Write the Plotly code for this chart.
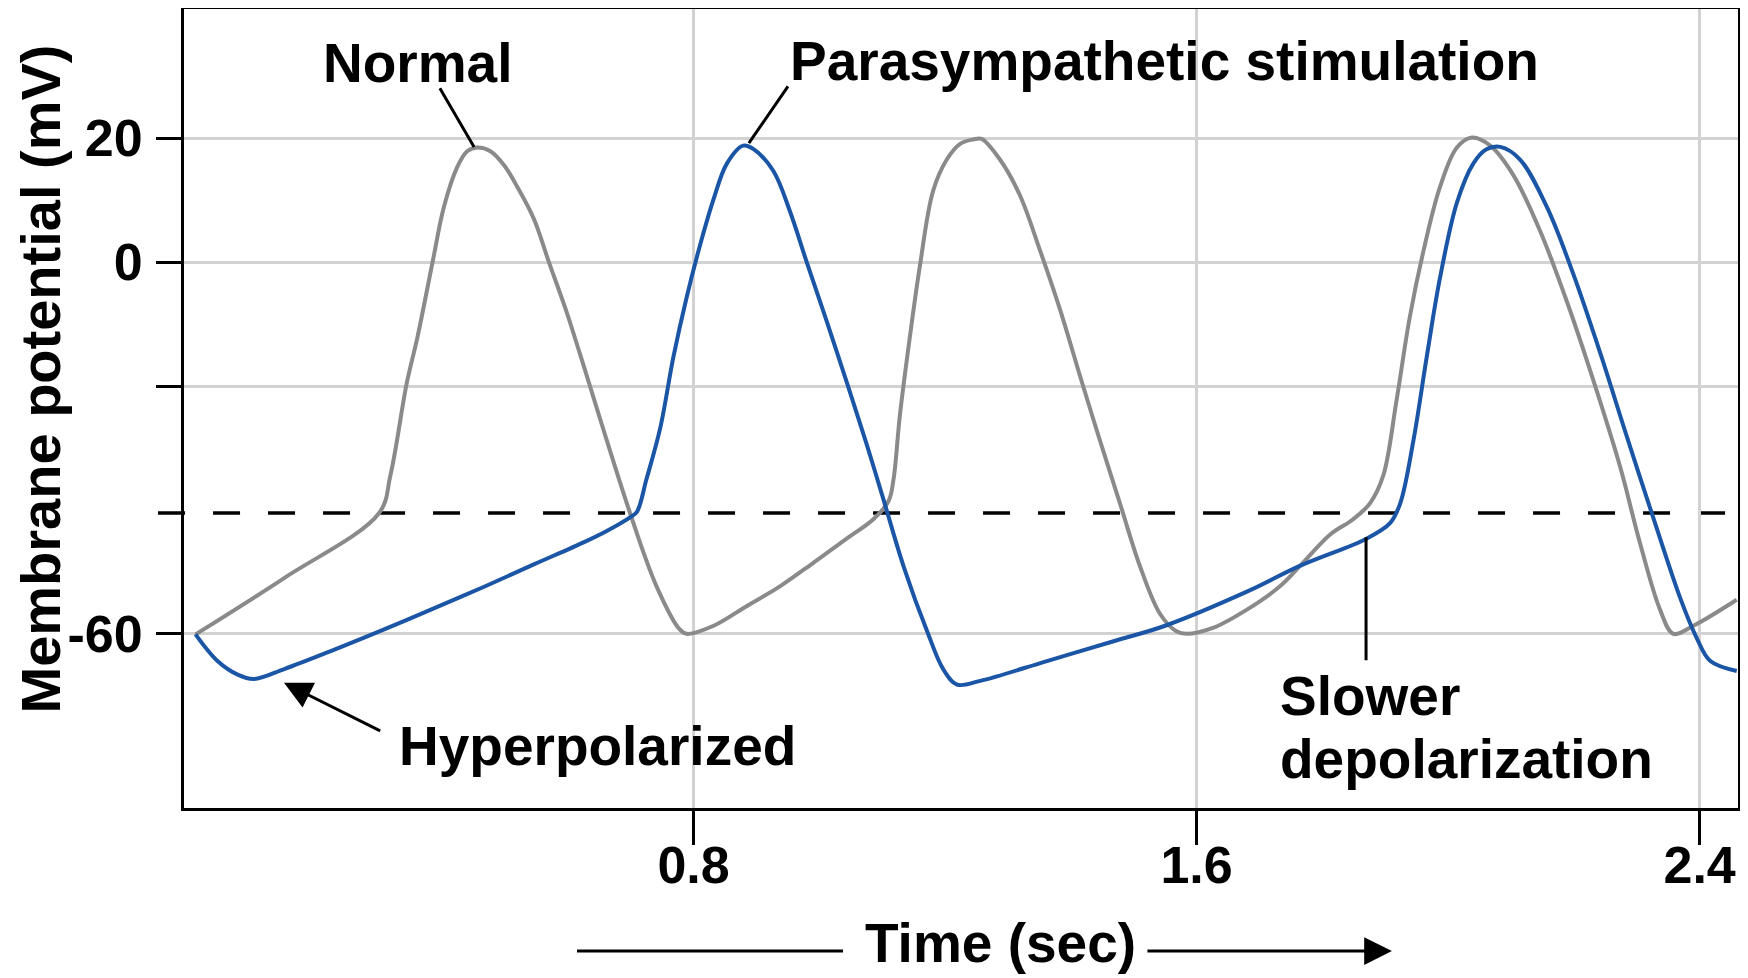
import plotly.graph_objects as go

# pacemaker potentials: time (s) and membrane potential (mV)
normal_t = [0.008, 0.149, 0.300, 0.318, 0.344, 0.361, 0.385, 0.403, 0.424, 0.440,
            0.456, 0.477, 0.499, 0.520, 0.546, 0.570, 0.599, 0.619, 0.699, 0.741,
            0.778, 0.789, 0.832, 0.885, 0.938, 0.991, 1.044, 1.086, 1.110, 1.118,
            1.128, 1.144, 1.160, 1.181, 1.203, 1.224, 1.245, 1.258, 1.287, 1.319,
            1.351, 1.383, 1.415, 1.446, 1.478, 1.510, 1.542, 1.568, 1.584, 1.627,
            1.680, 1.733, 1.765, 1.812, 1.849, 1.876, 1.897, 1.918, 1.939, 1.961,
            1.987, 2.014, 2.038, 2.067, 2.104, 2.146, 2.189, 2.231, 2.274, 2.305,
            2.337, 2.358, 2.390, 2.459]
normal_mv = [-60.1, -51.0, -40.5, -34.4, -19.5, -12.1, 0.0, 8.9, 15.3, 17.9,
             18.5, 17.9, 15.6, 12.1, 7.0, 0.0, -8.3, -14.7, -40.5, -52.3,
             -59.3, -60.0, -58.7, -55.5, -52.3, -48.5, -44.6, -41.5, -38.6, -35.1,
             -24.9, -12.1, -0.6, 11.5, 16.6, 19.1, 19.8, 19.9, 16.6, 10.8,
             1.9, -7.7, -18.5, -28.7, -38.9, -49.1, -56.8, -59.6, -60.0, -59.0,
             -56.1, -52.3, -49.0, -44.0, -41.5, -38.9, -34.4, -22.3, -8.9, 1.9,
             12.1, 18.5, 20.1, 18.8, 14.0, 5.1, -6.4, -19.1, -33.2, -45.3,
             -56.1, -60.0, -58.7, -54.5]

para_t = [0.008, 0.043, 0.075, 0.101, 0.149, 0.228, 0.308, 0.387, 0.467, 0.546,
          0.626, 0.662, 0.699, 0.710, 0.725, 0.747, 0.768, 0.789, 0.810, 0.832,
          0.853, 0.879, 0.896, 0.927, 0.953, 0.980, 1.012, 1.044, 1.075, 1.102,
          1.134, 1.173, 1.197, 1.219, 1.256, 1.362, 1.468, 1.550, 1.680, 1.765,
          1.871, 1.908, 1.924, 1.945, 1.966, 1.987, 2.014, 2.040, 2.061, 2.083,
          2.114, 2.157, 2.199, 2.242, 2.284, 2.327, 2.369, 2.395, 2.417, 2.459]
para_mv = [-60.1, -64.4, -66.6, -67.3, -65.7, -62.6, -59.3, -55.9, -52.4, -48.8,
           -45.2, -43.4, -41.2, -40.3, -35.1, -26.8, -15.3, -5.7, 2.6, 10.2,
           15.9, 18.8, 18.2, 14.7, 8.3, 0.0, -9.6, -19.5, -29.3, -38.3,
           -49.1, -60.0, -65.7, -68.2, -67.6, -64.4, -61.2, -58.7, -53.2, -49.0,
           -44.6, -42.1, -38.9, -28.7, -15.3, -2.6, 9.6, 15.9, 18.2, 18.6,
           16.6, 8.9, -1.9, -14.7, -28.1, -41.5, -54.2, -60.6, -64.4, -66.0]

threshold_mv = -40.5

x_ticks = [0.8, 1.6, 2.4]
x_ticktext = ['0.8', '1.6', '2.4']
y_ticks = [-60, -20, 0, 20]
y_ticktext = ['-60', '', '0', '20']

FONT = 'Liberation Sans, Arial, sans-serif'
GRAY = '#8a8a8a'
BLUE = '#1a55a6'
GRID = '#d2d2d2'

fig = go.Figure()
fig.add_trace(go.Scatter(x=normal_t, y=normal_mv, mode='lines', name='Normal',
                         line=dict(color=GRAY, width=4, shape='spline', smoothing=1.0)))
fig.add_trace(go.Scatter(x=para_t, y=para_mv, mode='lines', name='Parasympathetic stimulation',
                         line=dict(color=BLUE, width=4, shape='spline', smoothing=1.0)))

# threshold, runs out to the tick marks on the left
fig.add_shape(type='line', xref='paper', yref='y', x0=-0.0167, x1=1,
              y0=threshold_mv, y1=threshold_mv, layer='between',
              line=dict(color='black', width=3.5, dash='27px,28px'))


def label(text, x, y, size=55, **kw):
    kw.setdefault('xanchor', 'center')
    fig.add_annotation(text=text, x=x, y=y, xref='paper', yref='paper', showarrow=False,
                       yanchor='middle',
                       font=dict(family=FONT, size=size, color='black', weight='bold'), **kw)


def pointer(x, y, ax, ay, head=0):
    fig.add_annotation(text='', x=x, y=y, ax=ax, ay=ay, axref='x', ayref='y',
                       showarrow=True, arrowhead=head, arrowsize=1.85, arrowwidth=3,
                       arrowcolor='black')


label('Normal', 0.1509, 0.9324)
label('Parasympathetic stimulation', 0.6309, 0.9343)
label('Hyperpolarized', 0.2658, 0.0770)
label('Slower', 0.7038, 0.1396, xanchor='left')
label('depolarization', 0.7038, 0.0613, xanchor='left')
label('Time (sec)', 0.5251, -0.1690)
label('Membrane potential (mV)', -0.0923, 0.537, size=56, textangle=-90)

pointer(0.451, 18.6, 0.3952, 28.3)
pointer(0.888, 19.2, 0.9518, 28.6)
pointer(1.8695, -44.4, 1.8695, -64.5)
pointer(0.1487, -67.9, 0.3041, -75.8, head=2)

# time arrow below the axis
fig.add_shape(type='line', xref='paper', yref='paper', x0=0.2529, x1=0.4241,
              y0=-0.1790, y1=-0.1790, line=dict(color='black', width=3))
fig.add_annotation(text='', x=0.7773, y=-0.1790, xref='paper', yref='paper', ax=-246, ay=0,
                   showarrow=True, arrowhead=2, arrowsize=1.85, arrowwidth=3, arrowcolor='black')

fig.update_xaxes(range=[-0.0103, 2.461], tickvals=x_ticks, ticktext=x_ticktext,
                 ticks='outside', ticklen=34, tickwidth=3, tickcolor='black',
                 ticklabelstandoff=-24, automargin=False,
                 showline=True, linewidth=3, linecolor='black', mirror=True,
                 showgrid=True, gridcolor=GRID, gridwidth=2.5, zeroline=False,
                 tickfont=dict(family=FONT, size=52, color='black', weight='bold'))
fig.update_yaxes(range=[-88.12, 40.86], tickvals=y_ticks, ticktext=y_ticktext,
                 ticks='outside', ticklen=25, tickwidth=3, tickcolor='black',
                 ticklabelstandoff=3, automargin=False,
                 showline=True, linewidth=3, linecolor='black', mirror=True,
                 showgrid=True, gridcolor=GRID, gridwidth=3, zeroline=False,
                 tickfont=dict(family=FONT, size=52, color='black', weight='bold'))
# the page body adds 8px, so the figure is 8px smaller and shifted margins
fig.update_layout(width=1740, height=970, margin=dict(l=176, r=10, t=1, b=170),
                  plot_bgcolor='white', paper_bgcolor='white', showlegend=False)

fig.write_html('out.html')
